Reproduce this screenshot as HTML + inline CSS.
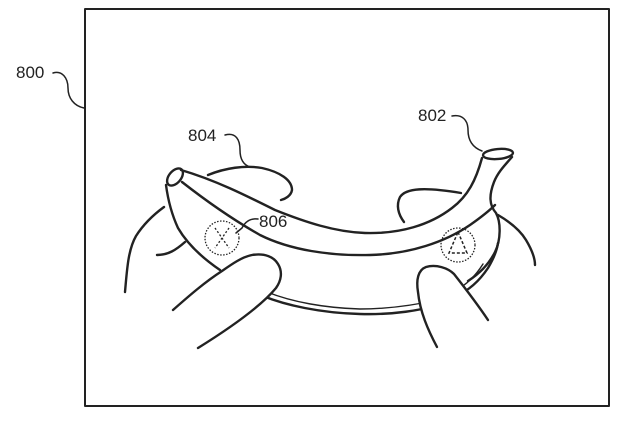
<!DOCTYPE html>
<html><head><meta charset="utf-8"><style>
html,body{margin:0;padding:0;background:#fff;width:642px;height:423px;overflow:hidden}
svg text{font-family:"Liberation Sans",sans-serif;font-size:17px;fill:#222}
</style></head><body>
<svg width="642" height="423" viewBox="0 0 642 423" xmlns="http://www.w3.org/2000/svg">
<g fill="none" stroke="#222" stroke-width="2.4" stroke-linecap="round" stroke-linejoin="round">
<rect x="85" y="9" width="524" height="397" stroke-width="2"/>
<!-- 800 leader -->
<path d="M53 73 C62 70 68 78 68 88 C68 98 74 106 84 108" stroke-width="1.5"/>
<!-- 804 leader -->
<path d="M225 135 C236 132 240 140 240 150 C240 160 244 165 250 167" stroke-width="1.5"/>
<!-- 802 leader -->
<path d="M452 116 C462 114 468 120 468 130 C468 142 474 148 482 151" stroke-width="1.5"/>
<!-- 806 leader -->
<path d="M258 219 C250 218 245 222 242 228 L236 233" stroke-width="1.5"/>
<!-- back finger left -->
<path d="M208 175 C225 168 245 165 262 168 C280 172 292 180 292 190 C291 196 285 199 281 200"/>
<!-- back finger right -->
<path d="M404 222 C398 214 396 205 400 197 C406 188 425 187 461 193"/>
<!-- left hand outer -->
<path d="M125 292 C127 270 128 250 136 236 C143 225 153 215 164 207"/>
<path d="M157 255 C168 255 176 250 185 242"/>
<!-- right hand outer -->
<path d="M498 215 C510 222 520 230 526 240 C532 250 535 258 535 265"/>
<!-- banana tip -->
<ellipse cx="175" cy="177" rx="6" ry="10" transform="rotate(40 175 177)"/>
<!-- banana top edge -->
<path d="M181 170 C215 180 245 195 275 210 C305 222 335 232 365 233 C400 234 430 225 452 208 C468 196 476 180 482 158"/>
<!-- stem -->
<ellipse cx="498" cy="154" rx="15" ry="5" transform="rotate(-5 498 154)"/>
<path d="M512 157 C505 165 498 172 494 182 C489 195 489 205 496 213 C501 222 501 240 495 252 C490 262 482 272 468 281"/>
<!-- seam -->
<path d="M182 182 C205 200 230 218 260 235 C290 250 330 256 370 255 C410 254 445 242 470 225 C480 218 488 212 495 205"/>
<!-- left banana outline -->
<path d="M166 185 C168 200 172 215 178 228 C185 240 198 255 220 270"/>
<!-- banana bottom -->
<path d="M263 296 C285 305 320 313 360 314 C395 315 420 310 440 305"/>
<path d="M267 292 C292 302 325 308 360 309 C390 309 415 305 437 300" stroke-width="1.4"/>
<path d="M456 296 C470 290 480 280 488 268 C494 258 497 250 498 243" />
<path d="M456 290 C468 284 476 275 483 264" stroke-width="1.4"/>
<!-- left thumb -->
<path d="M173 310 C190 295 205 282 222 271 C232 264 242 257 252 255 C265 253 274 257 278 264 C283 272 281 281 276 288 C262 305 235 325 198 348" fill="#fff"/>
<!-- right thumb -->
<path d="M437 347 C428 330 420 312 418 292 C416 280 418 270 426 267 C436 264 448 268 454 274 C465 288 478 305 488 320" fill="#fff"/>
</g>
<!-- dotted circles -->
<g fill="none" stroke="#222" stroke-width="1.3" stroke-dasharray="1.5 1.5">
<circle cx="222" cy="238" r="17"/>
<circle cx="458" cy="245" r="17"/>
<path d="M215 228 L229 248 M229 228 L215 248" stroke-dasharray="2 2"/>
<path d="M458 232 L467 253 L449 253 Z" stroke-dasharray="3 2" stroke-width="1.5"/>
</g>
<text x="16" y="78">800</text>
<text x="188" y="141">804</text>
<text x="418" y="121">802</text>
<text x="259" y="227">806</text>
</svg>
</body></html>
